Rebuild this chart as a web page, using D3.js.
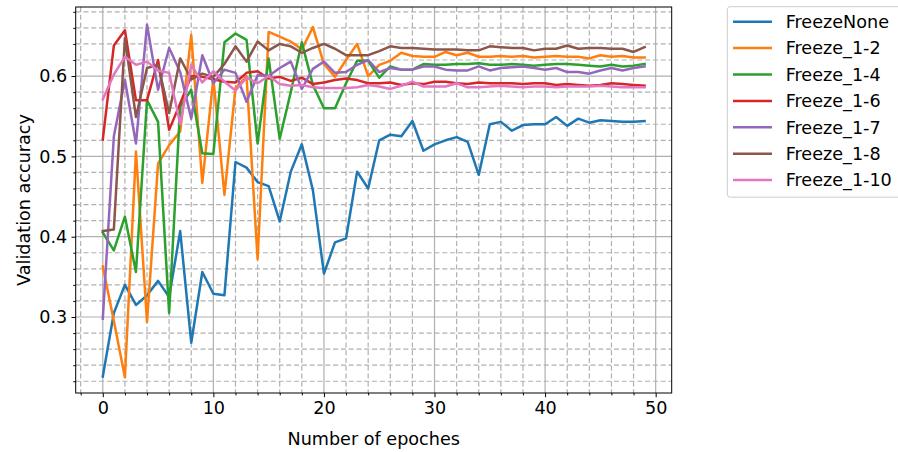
<!DOCTYPE html>
<html>
<head>
<meta charset="utf-8">
<script src="https://cdn.jsdelivr.net/npm/d3@7"></script>
<style>
	body { margin: 0; background: #fff; }
	svg { display: block; font-family: "DejaVu Sans", sans-serif; }
</style>
</head>
<body>
<div id="chart"></div>
<script>
// validation accuracy per epoch, one array per freeze setting
const epochs = d3.range(50);

const freezeNone = [0.226,0.305,0.340,0.315,0.327,0.345,0.325,0.407,0.268,0.356,
	0.329,0.327,0.493,0.486,0.468,0.463,0.419,0.481,0.515,0.458,
	0.354,0.393,0.398,0.481,0.460,0.520,0.527,0.525,0.544,0.507,
	0.515,0.520,0.524,0.518,0.477,0.540,0.543,0.532,0.539,0.540,
	0.540,0.549,0.538,0.547,0.542,0.545,0.544,0.543,0.543,0.544];
const freeze1_2 = [0.363,0.295,0.225,0.506,0.294,0.491,0.514,0.531,0.651,0.467,
	0.597,0.452,0.585,0.600,0.372,0.655,0.649,0.643,0.633,0.661,
	0.615,0.599,0.620,0.640,0.600,0.614,0.619,0.629,0.625,0.624,
	0.624,0.630,0.626,0.629,0.624,0.624,0.625,0.624,0.625,0.623,
	0.624,0.625,0.624,0.624,0.622,0.626,0.624,0.625,0.623,0.623];
const freeze1_4 = [0.405,0.383,0.425,0.356,0.570,0.543,0.305,0.562,0.583,0.504,
	0.503,0.642,0.653,0.645,0.516,0.622,0.522,0.580,0.642,0.589,
	0.560,0.560,0.591,0.619,0.619,0.598,0.612,0.608,0.608,0.615,
	0.614,0.614,0.615,0.615,0.616,0.614,0.614,0.615,0.614,0.613,
	0.614,0.615,0.615,0.614,0.613,0.612,0.614,0.612,0.613,0.615];
const freeze1_6 = [0.521,0.638,0.657,0.570,0.570,0.620,0.533,0.566,0.600,0.599,
	0.596,0.593,0.592,0.604,0.606,0.597,0.599,0.594,0.598,0.590,
	0.592,0.595,0.597,0.595,0.591,0.591,0.592,0.589,0.591,0.590,
	0.593,0.593,0.591,0.590,0.592,0.591,0.591,0.591,0.590,0.591,
	0.591,0.589,0.590,0.589,0.588,0.589,0.591,0.590,0.589,0.588];
const freeze1_7 = [0.298,0.525,0.595,0.516,0.664,0.583,0.635,0.605,0.547,0.626,
	0.591,0.608,0.604,0.568,0.601,0.600,0.610,0.618,0.584,0.609,
	0.618,0.604,0.605,0.614,0.620,0.605,0.610,0.608,0.608,0.612,
	0.612,0.608,0.607,0.607,0.612,0.607,0.610,0.611,0.612,0.610,
	0.608,0.610,0.605,0.605,0.603,0.607,0.610,0.607,0.610,0.612];
const freeze1_8 = [0.407,0.409,0.647,0.549,0.610,0.614,0.554,0.622,0.596,0.603,
	0.599,0.615,0.637,0.618,0.643,0.632,0.640,0.637,0.629,0.635,
	0.640,0.634,0.626,0.626,0.626,0.631,0.637,0.635,0.635,0.634,
	0.633,0.633,0.633,0.632,0.632,0.637,0.636,0.635,0.635,0.632,
	0.634,0.634,0.638,0.634,0.635,0.635,0.634,0.634,0.630,0.636];
const freeze1_10 = [0.571,0.602,0.624,0.614,0.618,0.607,0.604,0.540,0.614,0.592,
	0.606,0.593,0.582,0.598,0.591,0.600,0.590,0.588,0.589,0.586,
	0.585,0.585,0.585,0.586,0.589,0.587,0.584,0.588,0.593,0.587,
	0.587,0.587,0.591,0.586,0.586,0.587,0.588,0.587,0.586,0.587,
	0.587,0.586,0.587,0.587,0.587,0.588,0.587,0.586,0.586,0.586];

const seriesNames = ["FreezeNone", "Freeze_1-2", "Freeze_1-4", "Freeze_1-6", "Freeze_1-7", "Freeze_1-8", "Freeze_1-10"];
const seriesValues = [freezeNone, freeze1_2, freeze1_4, freeze1_6, freeze1_7, freeze1_8, freeze1_10];
const seriesColors = ["#1f77b4", "#ff7f0e", "#2ca02c", "#d62728", "#9467bd", "#8c564b", "#e377c2"];

const xMajorTicks = [0, 10, 20, 30, 40, 50];
const yMajorTicks = [0.3, 0.4, 0.5, 0.6];

//svg size and plot box
const width = 898, height = 452;
const plot = { left: 75.7, top: 7, right: 671.7, bottom: 393 };
const fontSize = 17.6;

const svg = d3.select("#chart").append("svg")
	.attr("width", width)
	.attr("height", height);

//scales, matplotlib style 5% margins
const x = d3.scaleLinear().domain([-2.45, 51.45]).range([plot.left, plot.right]);
const y = d3.scaleLinear().domain([0.2054, 0.686]).range([plot.bottom, plot.top]);

//minor ticks every 2 epochs and every 0.02
const xMinorTicks = d3.range(-2, 51, 2).filter(d => d % 10 !== 0);
const yMinorTicks = d3.range(22, 69, 2).map(d => d / 100).filter(d => Math.round(d * 100) % 10 !== 0);

//grid, minor dashed first then major solid
const grid = svg.append("g");
grid.selectAll(".vminor").data(xMinorTicks).enter().append("line")
	.attr("x1", d => x(d)).attr("x2", d => x(d))
	.attr("y1", plot.top).attr("y2", plot.bottom)
	.attr("stroke", "#b0b0b0").attr("stroke-width", 1.2).attr("stroke-dasharray", "5,2.8");
grid.selectAll(".hminor").data(yMinorTicks).enter().append("line")
	.attr("x1", plot.left).attr("x2", plot.right)
	.attr("y1", d => y(d)).attr("y2", d => y(d))
	.attr("stroke", "#b0b0b0").attr("stroke-width", 1.2).attr("stroke-dasharray", "5,2.8");
grid.selectAll(".vmajor").data(xMajorTicks).enter().append("line")
	.attr("x1", d => x(d)).attr("x2", d => x(d))
	.attr("y1", plot.top).attr("y2", plot.bottom)
	.attr("stroke", "#b0b0b0").attr("stroke-width", 1.2);
grid.selectAll(".hmajor").data(yMajorTicks).enter().append("line")
	.attr("x1", plot.left).attr("x2", plot.right)
	.attr("y1", d => y(d)).attr("y2", d => y(d))
	.attr("stroke", "#b0b0b0").attr("stroke-width", 1.2);

//the lines
const line = d3.line()
	.x((d, i) => x(epochs[i]))
	.y(d => y(d));

svg.append("g")
	.selectAll("path")
	.data(seriesValues)
	.enter()
	.append("path")
		.attr("d", d => line(d))
		.attr("fill", "none")
		.attr("stroke", (d, i) => seriesColors[i])
		.attr("stroke-width", 2.5)
		.attr("stroke-linejoin", "round")
		.attr("stroke-linecap", "square");

//axes
svg.append("g")
	.attr("transform", `translate(0,${plot.bottom})`)
	.call(d3.axisBottom(x).tickValues(xMajorTicks).tickSize(4.2).tickPadding(4.2).tickFormat(d3.format("d")));
svg.append("g")
	.attr("transform", `translate(0,${plot.bottom})`)
	.call(d3.axisBottom(x).tickValues(xMinorTicks).tickSize(2.4).tickFormat(""));

svg.append("g")
	.attr("transform", `translate(${plot.left},0)`)
	.call(d3.axisLeft(y).tickValues(yMajorTicks).tickSize(4.2).tickPadding(4.2).tickFormat(d3.format(".1f")));
svg.append("g")
	.attr("transform", `translate(${plot.left},0)`)
	.call(d3.axisLeft(y).tickValues(yMinorTicks).tickSize(2.4).tickFormat(""));

svg.selectAll(".domain").remove();
svg.selectAll(".tick line").attr("stroke", "#000").attr("stroke-width", 1);
svg.selectAll(".tick text")
	.attr("font-size", fontSize)
	.attr("font-family", "DejaVu Sans")
	.attr("fill", "#000");

//frame around the plot
svg.append("rect")
	.attr("x", plot.left).attr("y", plot.top)
	.attr("width", plot.right - plot.left).attr("height", plot.bottom - plot.top)
	.attr("fill", "none").attr("stroke", "#000").attr("stroke-width", 1);

//axis titles
svg.append("text")
	.attr("x", (plot.left + plot.right) / 2)
	.attr("y", 445)
	.attr("text-anchor", "middle")
	.attr("font-size", fontSize)
	.text("Number of epoches");

svg.append("text")
	.attr("transform", `translate(29.5,${(plot.top + plot.bottom) / 2}) rotate(-90)`)
	.attr("text-anchor", "middle")
	.attr("font-size", fontSize)
	.text("Validation accuracy");

//legend outside on the right, its right edge runs off the picture
const legend = svg.append("g");
legend.append("rect")
	.attr("x", 727.3).attr("y", 6.7)
	.attr("width", 174).attr("height", 190.5)
	.attr("rx", 3).attr("ry", 3)
	.attr("fill", "#fff").attr("fill-opacity", 0.8)
	.attr("stroke", "#cccccc").attr("stroke-width", 1);

const rows = legend.selectAll(".row")
	.data(seriesNames)
	.enter()
	.append("g")
		.attr("transform", (d, i) => `translate(0,${21.7 + i * 26.4})`);

rows.append("line")
	.attr("x1", 733).attr("x2", 772)
	.attr("stroke", (d, i) => seriesColors[i])
	.attr("stroke-width", 2.5);

rows.append("text")
	.attr("x", 785.7)
	.attr("dy", "0.36em")
	.attr("font-size", fontSize)
	.text(d => d);
</script>
</body>
</html>
